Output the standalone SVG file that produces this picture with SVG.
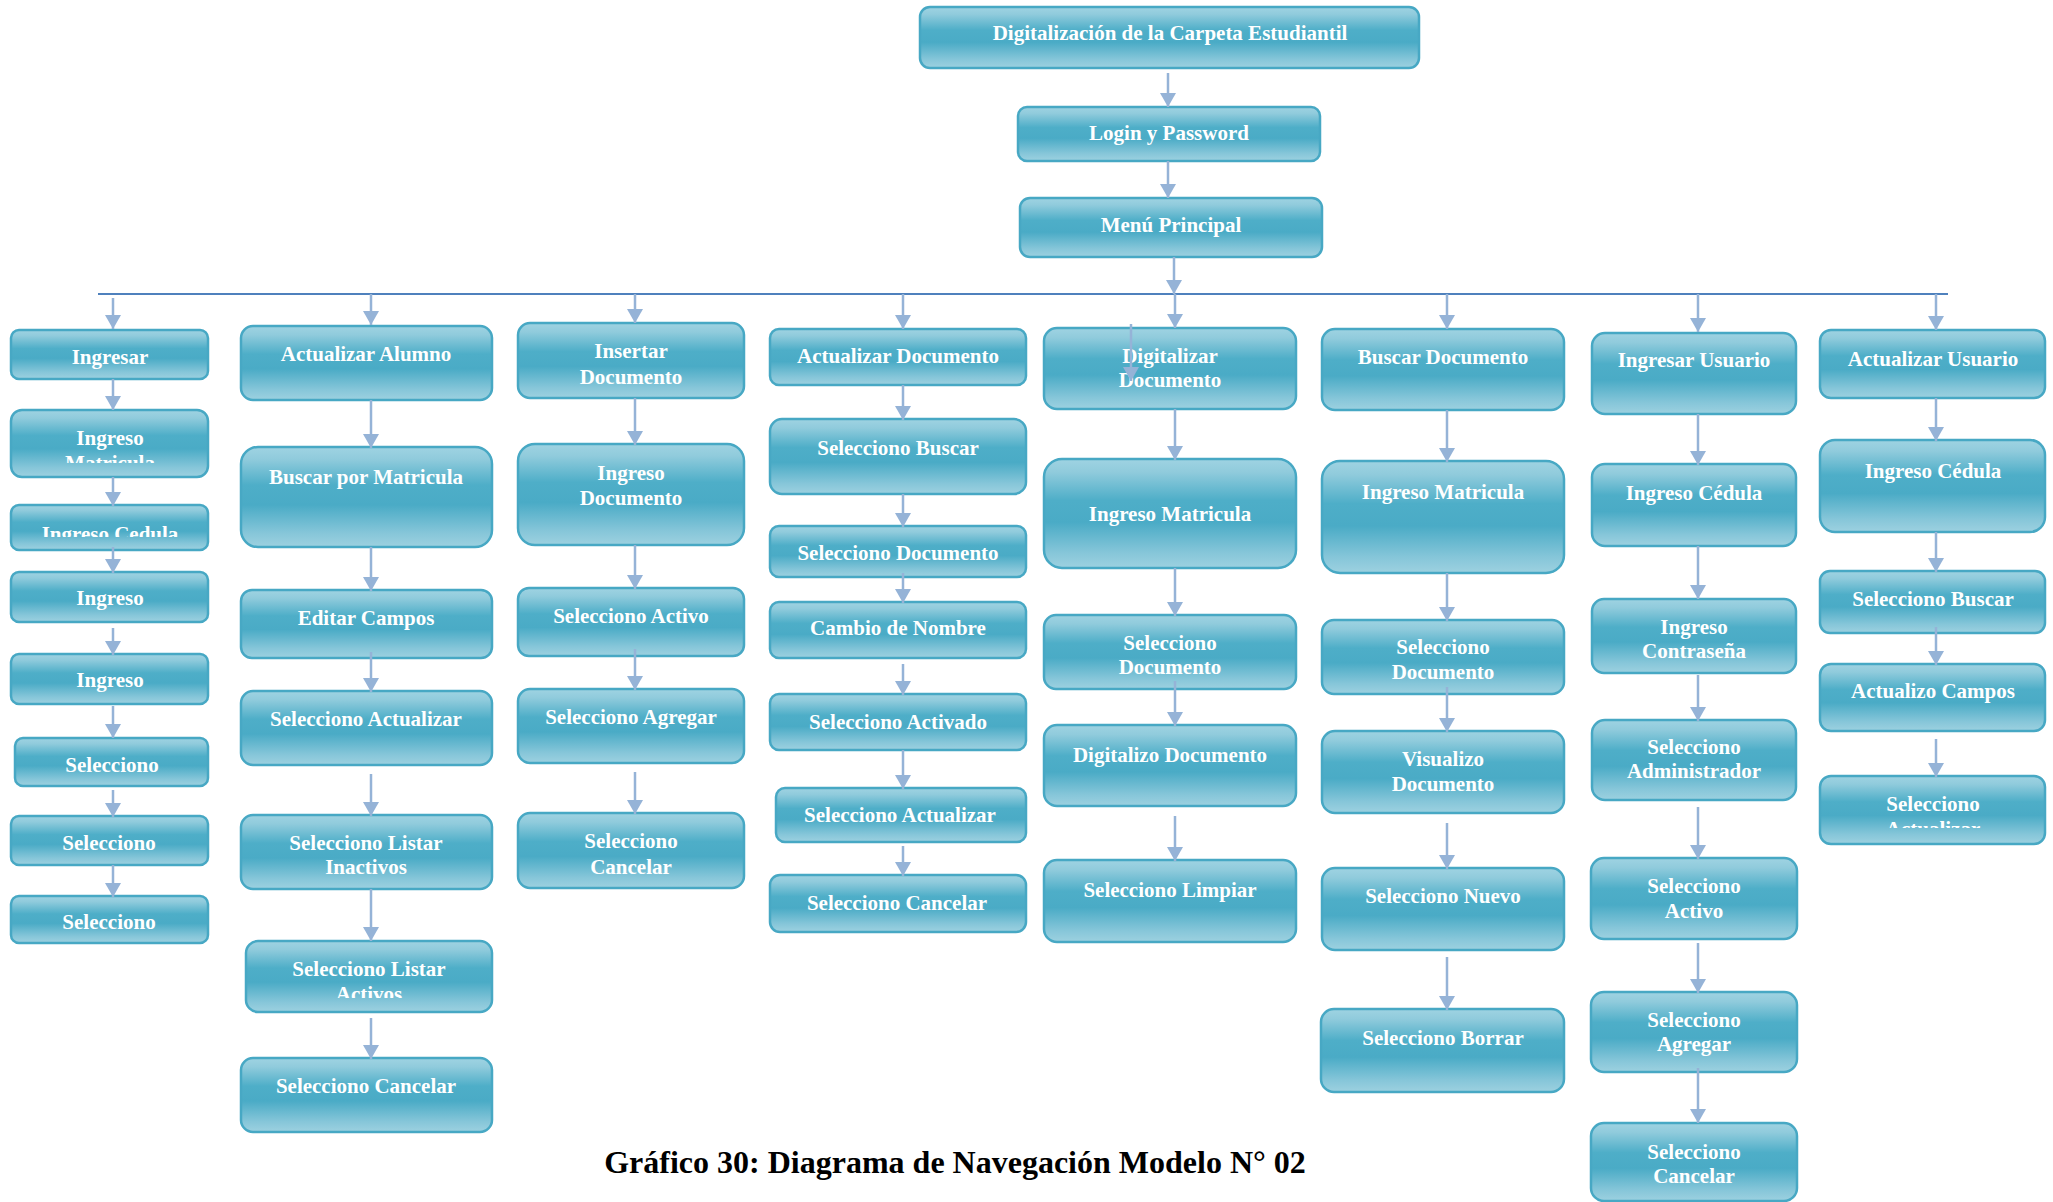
<svg xmlns="http://www.w3.org/2000/svg" width="2053" height="1202" viewBox="0 0 2053 1202">
  <defs>
    <linearGradient id="boxFill" x1="0" y1="0" x2="0" y2="1">
      <stop offset="0" stop-color="#9fd3e2"/>
      <stop offset="0.12" stop-color="#90cbdc"/>
      <stop offset="0.38" stop-color="#4eaec8"/>
      <stop offset="0.58" stop-color="#4aabc6"/>
      <stop offset="0.86" stop-color="#86c6d9"/>
      <stop offset="1" stop-color="#9dd1e0"/>
    </linearGradient>
    <marker id="ah" markerUnits="userSpaceOnUse" markerWidth="14" markerHeight="16" viewBox="0 0 14 16" refX="14" refY="8" orient="auto">
      <path d="M0,0 L14,8 L0,16 z" fill="#95b3d7"/>
    </marker>
    <clipPath id="clipC1b"><rect x="11" y="410" width="197" height="53"/></clipPath>
    <clipPath id="clipC1c"><rect x="11" y="505" width="197" height="32"/></clipPath>
    <clipPath id="clipC2f"><rect x="246" y="941" width="246" height="57"/></clipPath>
    <clipPath id="clipC8e"><rect x="1820" y="776" width="225" height="52"/></clipPath>
  </defs>
  <style>
    .box { fill: url(#boxFill); stroke: #47a8c4; stroke-width: 2.5; }
    .t { font-family: "Liberation Serif", "Times New Roman", serif; font-weight: bold; font-size: 21px; fill: #ffffff; text-anchor: middle; }
    .cap { font-family: "Liberation Serif", "Times New Roman", serif; font-weight: bold; font-size: 32px; fill: #000000; text-anchor: middle; }
    .c { stroke: #95b3d7; stroke-width: 2.5; fill: none; marker-end: url(#ah); }
    .bus { stroke: #4f81bd; stroke-width: 2; fill: none; }
  </style>
  <rect width="2053" height="1202" fill="#ffffff"/>

  <!-- header chain -->
  <g id="n-root"><rect class="box" x="920" y="7" width="499" height="61" rx="10"/><text class="t" x="1170" y="40">Digitalización de la Carpeta Estudiantil</text></g>
  <g id="n-login"><rect class="box" x="1018" y="107" width="302" height="54" rx="9"/><text class="t" x="1169" y="140">Login y Password</text></g>
  <g id="n-menu"><rect class="box" x="1020" y="198" width="302" height="59" rx="10"/><text class="t" x="1171" y="232">Menú Principal</text></g>

  <!-- column 1 -->
  <g id="c1-ingresar"><rect class="box" x="11" y="330" width="197" height="49" rx="8"/><text class="t" x="110" y="364">Ingresar</text></g>
  <g id="c1-matricula"><rect class="box" x="11" y="410" width="197" height="67" rx="11"/><text class="t" x="110" clip-path="url(#clipC1b)"><tspan x="110" y="445">Ingreso</tspan><tspan x="110" y="470">Matricula</tspan></text></g>
  <g id="c1-cedula"><rect class="box" x="11" y="505" width="197" height="45" rx="8"/><text class="t" x="110" y="541" clip-path="url(#clipC1c)">Ingreso Cedula</text></g>
  <g id="c1-ingreso1"><rect class="box" x="11" y="572" width="197" height="50" rx="8"/><text class="t" x="110" y="605">Ingreso</text></g>
  <g id="c1-ingreso2"><rect class="box" x="11" y="654" width="197" height="50" rx="8"/><text class="t" x="110" y="687">Ingreso</text></g>
  <g id="c1-sel1"><rect class="box" x="15" y="738" width="193" height="48" rx="8"/><text class="t" x="112" y="772">Selecciono</text></g>
  <g id="c1-sel2"><rect class="box" x="11" y="816" width="197" height="49" rx="8"/><text class="t" x="109" y="850">Selecciono</text></g>
  <g id="c1-sel3"><rect class="box" x="11" y="896" width="197" height="47" rx="8"/><text class="t" x="109" y="929">Selecciono</text></g>

  <!-- column 2 -->
  <g id="c2-alumno"><rect class="box" x="241" y="326" width="251" height="74" rx="12"/><text class="t" x="366" y="361">Actualizar Alumno</text></g>
  <g id="c2-buscar"><rect class="box" x="241" y="447" width="251" height="100" rx="17"/><text class="t" x="366" y="484">Buscar por Matricula</text></g>
  <g id="c2-editar"><rect class="box" x="241" y="590" width="251" height="68" rx="11"/><text class="t" x="366" y="625">Editar Campos</text></g>
  <g id="c2-actualizar"><rect class="box" x="241" y="691" width="251" height="74" rx="12"/><text class="t" x="366" y="726">Selecciono Actualizar</text></g>
  <g id="c2-inactivos"><rect class="box" x="241" y="815" width="251" height="74" rx="12"/><text class="t"><tspan x="366" y="850">Selecciono Listar</tspan><tspan x="366" y="874">Inactivos</tspan></text></g>
  <g id="c2-activos"><rect class="box" x="246" y="941" width="246" height="71" rx="12"/><text class="t" clip-path="url(#clipC2f)"><tspan x="369" y="976">Selecciono Listar</tspan><tspan x="369" y="1001">Activos</tspan></text></g>
  <g id="c2-cancelar"><rect class="box" x="241" y="1058" width="251" height="74" rx="12"/><text class="t" x="366" y="1093">Selecciono Cancelar</text></g>

  <!-- column 3 -->
  <g id="c3-insertar"><rect class="box" x="518" y="323" width="226" height="75" rx="12"/><text class="t"><tspan x="631" y="358">Insertar</tspan><tspan x="631" y="384">Documento</tspan></text></g>
  <g id="c3-ingreso"><rect class="box" x="518" y="444" width="226" height="101" rx="17"/><text class="t"><tspan x="631" y="480">Ingreso</tspan><tspan x="631" y="505">Documento</tspan></text></g>
  <g id="c3-activo"><rect class="box" x="518" y="588" width="226" height="68" rx="11"/><text class="t" x="631" y="623">Selecciono Activo</text></g>
  <g id="c3-agregar"><rect class="box" x="518" y="689" width="226" height="74" rx="12"/><text class="t" x="631" y="724">Selecciono Agregar</text></g>
  <g id="c3-cancelar"><rect class="box" x="518" y="813" width="226" height="75" rx="12"/><text class="t"><tspan x="631" y="848">Selecciono</tspan><tspan x="631" y="874">Cancelar</tspan></text></g>

  <!-- column 4 -->
  <g id="c4-actualizar-doc"><rect class="box" x="770" y="329" width="256" height="56" rx="9"/><text class="t" x="898" y="363">Actualizar Documento</text></g>
  <g id="c4-buscar"><rect class="box" x="770" y="419" width="256" height="75" rx="12"/><text class="t" x="898" y="455">Selecciono Buscar</text></g>
  <g id="c4-documento"><rect class="box" x="770" y="526" width="256" height="51" rx="9"/><text class="t" x="898" y="560">Selecciono Documento</text></g>
  <g id="c4-nombre"><rect class="box" x="770" y="602" width="256" height="56" rx="9"/><text class="t" x="898" y="635">Cambio de Nombre</text></g>
  <g id="c4-activado"><rect class="box" x="770" y="694" width="256" height="56" rx="9"/><text class="t" x="898" y="729">Selecciono Activado</text></g>
  <g id="c4-actualizar"><rect class="box" x="776" y="788" width="250" height="54" rx="9"/><text class="t" x="900" y="822">Selecciono Actualizar</text></g>
  <g id="c4-cancelar"><rect class="box" x="770" y="875" width="256" height="57" rx="10"/><text class="t" x="897" y="910">Selecciono Cancelar</text></g>

  <!-- column 5 -->
  <g id="c5-digitalizar"><rect class="box" x="1044" y="328" width="252" height="81" rx="13"/><text class="t"><tspan x="1170" y="363">Digitalizar</tspan><tspan x="1170" y="387">Documento</tspan></text></g>
  <g id="c5-matricula"><rect class="box" x="1044" y="459" width="252" height="109" rx="18"/><text class="t" x="1170" y="521">Ingreso Matricula</text></g>
  <g id="c5-documento"><rect class="box" x="1044" y="615" width="252" height="74" rx="12"/><text class="t"><tspan x="1170" y="650">Selecciono</tspan><tspan x="1170" y="674">Documento</tspan></text></g>
  <g id="c5-digitalizo"><rect class="box" x="1044" y="725" width="252" height="81" rx="13"/><text class="t" x="1170" y="762">Digitalizo Documento</text></g>
  <g id="c5-limpiar"><rect class="box" x="1044" y="860" width="252" height="82" rx="13"/><text class="t" x="1170" y="897">Selecciono Limpiar</text></g>

  <!-- column 6 -->
  <g id="c6-buscar"><rect class="box" x="1322" y="329" width="242" height="81" rx="13"/><text class="t" x="1443" y="364">Buscar Documento</text></g>
  <g id="c6-matricula"><rect class="box" x="1322" y="461" width="242" height="112" rx="18"/><text class="t" x="1443" y="499">Ingreso Matricula</text></g>
  <g id="c6-documento"><rect class="box" x="1322" y="620" width="242" height="74" rx="12"/><text class="t"><tspan x="1443" y="654">Selecciono</tspan><tspan x="1443" y="679">Documento</tspan></text></g>
  <g id="c6-visualizo"><rect class="box" x="1322" y="731" width="242" height="82" rx="13"/><text class="t"><tspan x="1443" y="766">Visualizo</tspan><tspan x="1443" y="791">Documento</tspan></text></g>
  <g id="c6-nuevo"><rect class="box" x="1322" y="868" width="242" height="82" rx="13"/><text class="t" x="1443" y="903">Selecciono Nuevo</text></g>
  <g id="c6-borrar"><rect class="box" x="1321" y="1009" width="243" height="83" rx="13"/><text class="t" x="1443" y="1045">Selecciono Borrar</text></g>

  <!-- column 7 -->
  <g id="c7-usuario"><rect class="box" x="1592" y="333" width="204" height="81" rx="13"/><text class="t" x="1694" y="367">Ingresar Usuario</text></g>
  <g id="c7-cedula"><rect class="box" x="1592" y="464" width="204" height="82" rx="13"/><text class="t" x="1694" y="500">Ingreso Cédula</text></g>
  <g id="c7-contrasena"><rect class="box" x="1592" y="599" width="204" height="74" rx="12"/><text class="t"><tspan x="1694" y="634">Ingreso</tspan><tspan x="1694" y="658">Contraseña</tspan></text></g>
  <g id="c7-admin"><rect class="box" x="1592" y="720" width="204" height="80" rx="13"/><text class="t"><tspan x="1694" y="754">Selecciono</tspan><tspan x="1694" y="778">Administrador</tspan></text></g>
  <g id="c7-activo"><rect class="box" x="1591" y="858" width="206" height="81" rx="13"/><text class="t"><tspan x="1694" y="893">Selecciono</tspan><tspan x="1694" y="918">Activo</tspan></text></g>
  <g id="c7-agregar"><rect class="box" x="1591" y="992" width="206" height="80" rx="13"/><text class="t"><tspan x="1694" y="1027">Selecciono</tspan><tspan x="1694" y="1051">Agregar</tspan></text></g>
  <g id="c7-cancelar"><rect class="box" x="1591" y="1123" width="206" height="78" rx="13"/><text class="t"><tspan x="1694" y="1159">Selecciono</tspan><tspan x="1694" y="1183">Cancelar</tspan></text></g>

  <!-- column 8 -->
  <g id="c8-usuario"><rect class="box" x="1820" y="330" width="225" height="68" rx="11"/><text class="t" x="1933" y="366">Actualizar Usuario</text></g>
  <g id="c8-cedula"><rect class="box" x="1820" y="440" width="225" height="92" rx="15"/><text class="t" x="1933" y="478">Ingreso Cédula</text></g>
  <g id="c8-buscar"><rect class="box" x="1820" y="571" width="225" height="62" rx="10"/><text class="t" x="1933" y="606">Selecciono Buscar</text></g>
  <g id="c8-campos"><rect class="box" x="1820" y="664" width="225" height="67" rx="11"/><text class="t" x="1933" y="698">Actualizo Campos</text></g>
  <g id="c8-actualizar"><rect class="box" x="1820" y="776" width="225" height="68" rx="11"/><text class="t" clip-path="url(#clipC8e)"><tspan x="1933" y="811">Selecciono</tspan><tspan x="1933" y="836">Actualizar</tspan></text></g>

  <!-- connectors -->
  <g id="connectors">
    <line class="bus" x1="98" y1="294" x2="1948" y2="294"/>
    <line class="c" x1="1168" y1="73" x2="1168" y2="107"/>
    <line class="c" x1="1168" y1="161" x2="1168" y2="198"/>
    <line class="c" x1="1174" y1="257" x2="1174" y2="294"/>

    <line class="c" x1="113" y1="298" x2="113" y2="329"/>
    <line class="c" x1="113" y1="379" x2="113" y2="410"/>
    <line class="c" x1="113" y1="477" x2="113" y2="506"/>
    <line class="c" x1="113" y1="547" x2="113" y2="573"/>
    <line class="c" x1="113" y1="628" x2="113" y2="655"/>
    <line class="c" x1="113" y1="706" x2="113" y2="738"/>
    <line class="c" x1="113" y1="790" x2="113" y2="817"/>
    <line class="c" x1="113" y1="865" x2="113" y2="897"/>

    <line class="c" x1="371" y1="294" x2="371" y2="325"/>
    <line class="c" x1="371" y1="400" x2="371" y2="448"/>
    <line class="c" x1="371" y1="547" x2="371" y2="591"/>
    <line class="c" x1="371" y1="652" x2="371" y2="692"/>
    <line class="c" x1="371" y1="774" x2="371" y2="816"/>
    <line class="c" x1="371" y1="889" x2="371" y2="941"/>
    <line class="c" x1="371" y1="1018" x2="371" y2="1059"/>

    <line class="c" x1="635" y1="294" x2="635" y2="323"/>
    <line class="c" x1="635" y1="398" x2="635" y2="445"/>
    <line class="c" x1="635" y1="545" x2="635" y2="589"/>
    <line class="c" x1="635" y1="649" x2="635" y2="690"/>
    <line class="c" x1="635" y1="772" x2="635" y2="814"/>

    <line class="c" x1="903" y1="294" x2="903" y2="329"/>
    <line class="c" x1="903" y1="385" x2="903" y2="420"/>
    <line class="c" x1="903" y1="494" x2="903" y2="527"/>
    <line class="c" x1="903" y1="573" x2="903" y2="603"/>
    <line class="c" x1="903" y1="664" x2="903" y2="695"/>
    <line class="c" x1="903" y1="750" x2="903" y2="789"/>
    <line class="c" x1="903" y1="846" x2="903" y2="876"/>

    <line class="c" x1="1175" y1="294" x2="1175" y2="328"/>
    <line class="c" x1="1131" y1="324" x2="1131" y2="381"/>
    <line class="c" x1="1175" y1="409" x2="1175" y2="460"/>
    <line class="c" x1="1175" y1="568" x2="1175" y2="616"/>
    <line class="c" x1="1175" y1="681" x2="1175" y2="726"/>
    <line class="c" x1="1175" y1="816" x2="1175" y2="861"/>

    <line class="c" x1="1447" y1="294" x2="1447" y2="329"/>
    <line class="c" x1="1447" y1="410" x2="1447" y2="462"/>
    <line class="c" x1="1447" y1="573" x2="1447" y2="621"/>
    <line class="c" x1="1447" y1="687" x2="1447" y2="732"/>
    <line class="c" x1="1447" y1="823" x2="1447" y2="869"/>
    <line class="c" x1="1447" y1="957" x2="1447" y2="1010"/>

    <line class="c" x1="1698" y1="294" x2="1698" y2="332"/>
    <line class="c" x1="1698" y1="414" x2="1698" y2="465"/>
    <line class="c" x1="1698" y1="546" x2="1698" y2="599"/>
    <line class="c" x1="1698" y1="675" x2="1698" y2="721"/>
    <line class="c" x1="1698" y1="807" x2="1698" y2="859"/>
    <line class="c" x1="1698" y1="943" x2="1698" y2="993"/>
    <line class="c" x1="1698" y1="1068" x2="1698" y2="1123"/>

    <line class="c" x1="1936" y1="294" x2="1936" y2="330"/>
    <line class="c" x1="1936" y1="398" x2="1936" y2="441"/>
    <line class="c" x1="1936" y1="532" x2="1936" y2="572"/>
    <line class="c" x1="1936" y1="627" x2="1936" y2="665"/>
    <line class="c" x1="1936" y1="739" x2="1936" y2="777"/>
  </g>

  <text class="cap" x="955" y="1173">Gráfico 30: Diagrama de Navegación Modelo N° 02</text>
</svg>
